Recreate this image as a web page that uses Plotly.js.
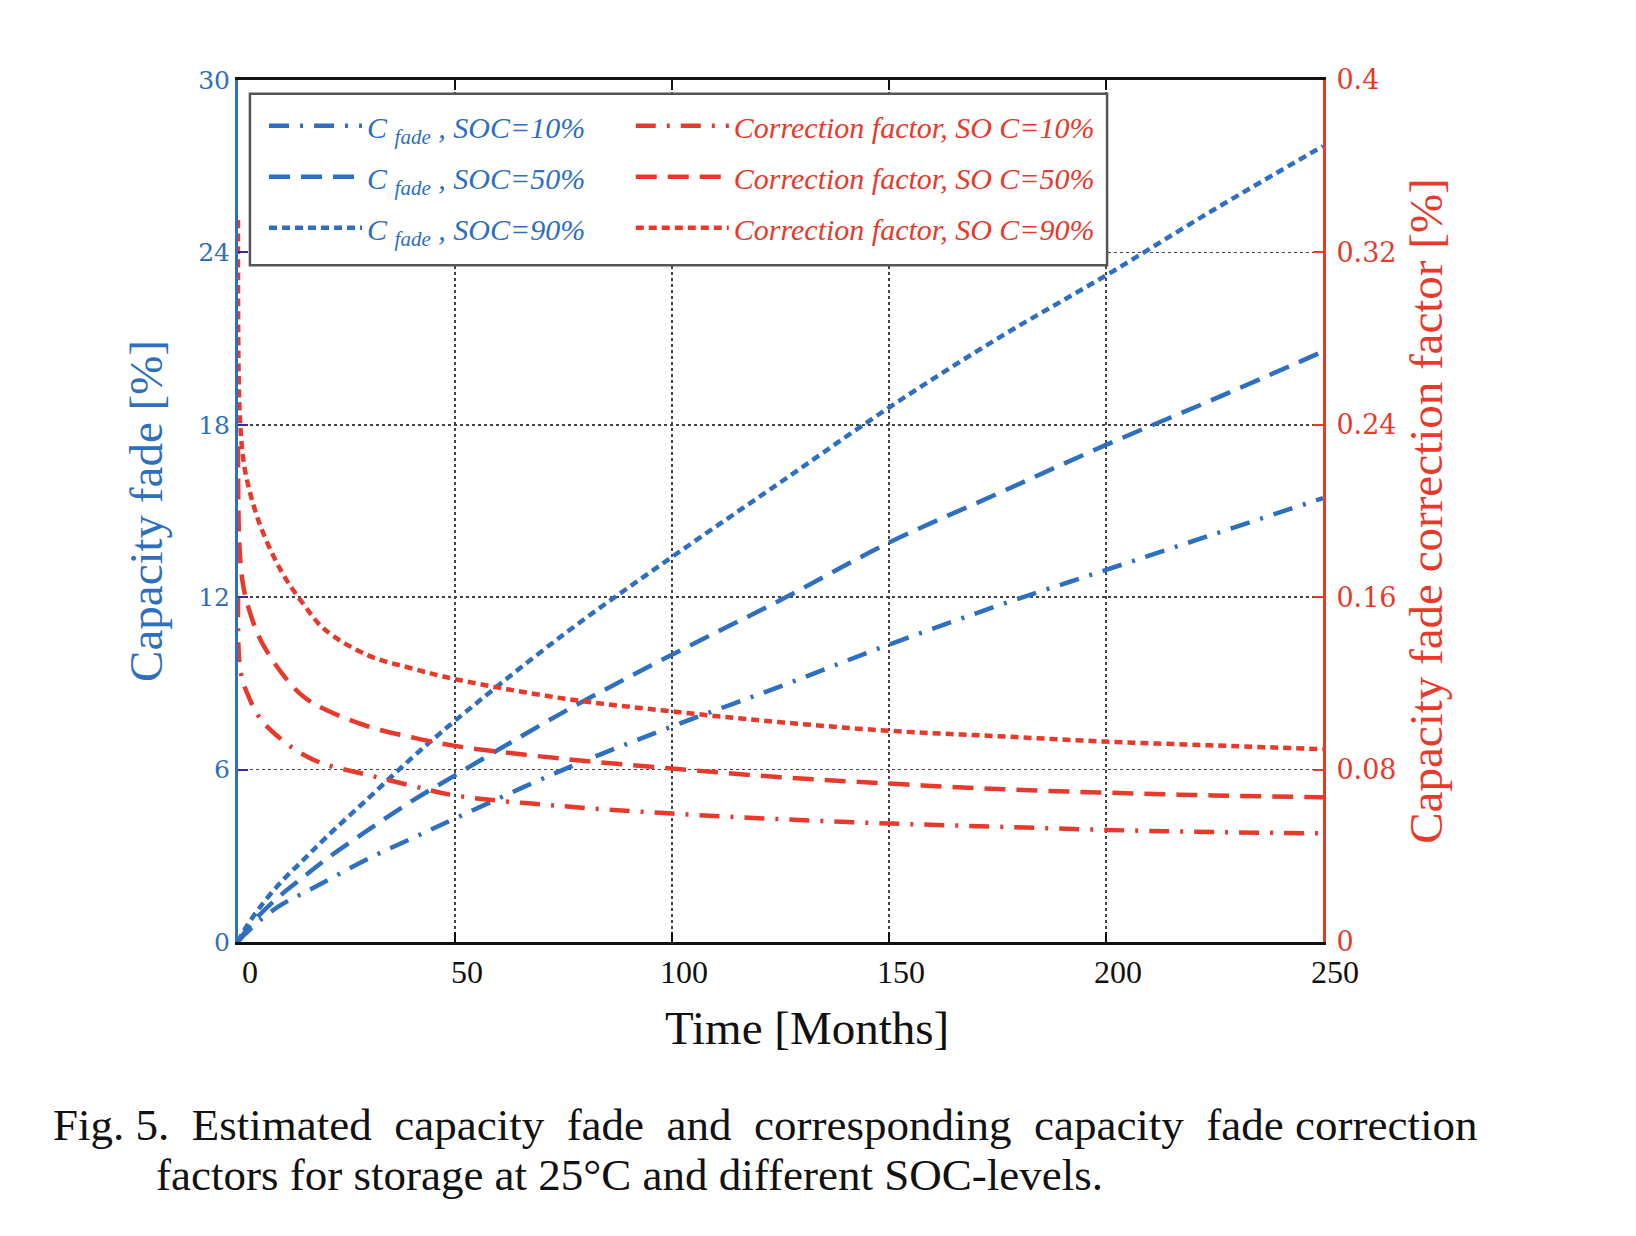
<!DOCTYPE html>
<html>
<head>
<meta charset="utf-8">
<script src="https://cdn.plot.ly/plotly-3.0.1.min.js"></script>
<style>html,body{margin:0;padding:0;background:#fff;}</style>
</head>
<body>
<div id="chart" style="width:1636px;height:1236px;"></div>
<script>
// ---- data ----
const tBlue = [0, 1, 2, 5, 10, 15, 20, 30, 40, 50, 75, 100, 125, 150, 175, 200, 225, 250];
const fade10 = [0, 0.18, 0.33, 0.75, 1.3, 1.7, 2.1, 2.9, 3.6, 4.3, 6.0, 7.5, 8.9, 10.35, 11.7, 12.95, 14.2, 15.45];
const fade50 = [0, 0.22, 0.42, 0.95, 1.65, 2.25, 2.85, 3.9, 4.9, 5.8, 8.0, 10.0, 11.9, 13.9, 15.6, 17.3, 18.9, 20.55];
const fade90 = [0, 0.3, 0.55, 1.2, 2.1, 2.85, 3.6, 5.0, 6.4, 7.7, 10.7, 13.4, 16.0, 18.6, 21.0, 23.2, 25.5, 27.7];

const tRed = [0, 0.3, 1, 2, 5, 10, 15, 20, 30, 40, 50, 75, 100, 125, 150, 175, 200, 225, 250];
const cf10 = [0.16, 0.13, 0.122, 0.116, 0.104, 0.094, 0.087, 0.0825, 0.0775, 0.0725, 0.068, 0.063, 0.0596, 0.057, 0.055, 0.0535, 0.052, 0.051, 0.0504];
const cf50 = [0.23, 0.185, 0.168, 0.158, 0.141, 0.125, 0.114, 0.108, 0.1, 0.095, 0.091, 0.085, 0.0805, 0.0765, 0.0735, 0.071, 0.0693, 0.068, 0.0672];
const cf90 = [0.335, 0.25, 0.228, 0.215, 0.194, 0.172, 0.157, 0.145, 0.133, 0.127, 0.122, 0.113, 0.107, 0.102, 0.098, 0.0955, 0.093, 0.0912, 0.0895];

const xTicks = [0, 50, 100, 150, 200, 250];
const xTickText = ['0', '50', '100', '150', '200', '250'];
const yTicks = [0, 6, 12, 18, 24, 30];
const y2Ticks = [0, 0.08, 0.16, 0.24, 0.32, 0.4];
const y2TickText = ['0', '0.08', '0.16', '0.24', '0.32', '0.4'];

const blueNames = ['<i>C <sub>fade</sub> , SOC=10%</i>', '<i>C <sub>fade</sub> , SOC=50%</i>', '<i>C <sub>fade</sub> , SOC=90%</i>'];
const redNames = ['<i>Correction factor, SO C=10%</i>', '<i>Correction factor, SO C=50%</i>', '<i>Correction factor, SO C=90%</i>'];

const xTitle = 'Time [Months]';
const yTitle = 'Capacity fade [%]';
const y2Title = 'Capacity fade correction factor [%]';
const captionLine1 = 'Fig. 5.  Estimated  capacity  fade  and  corresponding  capacity  fade correction';
const captionLine2 = 'factors for storage at 25°C and different SOC-levels.';

// ---- styles ----
const BLUE = '#2F6FC0';
const RED = '#E8392B';
const FONT = 'Liberation Serif, Times New Roman, serif';
const TICKFONT = 'DejaVu Serif, serif';
const dashDot = '20px,11px,3px,11px';
const dashDash = '21px,11px';
const dashDotted = '8px,5px';
const LW = 4.5;

const traces = [
  {x: tBlue, y: fade10, name: blueNames[0], yaxis: 'y', legend: 'legend', legendgroup: 'b1', line: {color: BLUE, width: LW, dash: dashDot, shape: 'spline'}},
  {x: tBlue, y: fade50, name: blueNames[1], yaxis: 'y', legend: 'legend', legendgroup: 'b2', line: {color: BLUE, width: LW, dash: dashDash, shape: 'spline'}},
  {x: tBlue, y: fade90, name: blueNames[2], yaxis: 'y', legend: 'legend', legendgroup: 'b3', line: {color: BLUE, width: LW, dash: dashDotted, shape: 'spline'}},
  {x: tRed, y: cf10, name: redNames[0], yaxis: 'y2', legend: 'legend2', legendgroup: 'r1', line: {color: RED, width: LW, dash: dashDot, shape: 'spline'}},
  {x: tRed, y: cf50, name: redNames[1], yaxis: 'y2', legend: 'legend2', legendgroup: 'r2', line: {color: RED, width: LW, dash: dashDash, shape: 'spline'}},
  {x: tRed, y: cf90, name: redNames[2], yaxis: 'y2', legend: 'legend2', legendgroup: 'r3', line: {color: RED, width: LW, dash: dashDotted, shape: 'spline'}}
].map(t => Object.assign({type: 'scatter', mode: 'lines', hoverinfo: 'skip'}, t));

const legendBase = {
  yanchor: 'top', xanchor: 'left', orientation: 'v', y: 0.977,
  bgcolor: 'rgba(0,0,0,0)', borderwidth: 0, itemwidth: 93, tracegroupgap: 9,
  traceorder: 'grouped'
};

const layout = {
  width: 1636, height: 1236,
  margin: {l: 238, r: 313, t: 80, b: 294, pad: 0},
  paper_bgcolor: '#fff', plot_bgcolor: '#fff',
  font: {family: FONT, color: '#111'},
  showlegend: true,
  xaxis: {
    range: [0, 250], tickvals: xTicks, ticktext: xTickText,
    ticks: 'inside', ticklen: 10, tickwidth: 2, tickcolor: '#111',
    showline: true, linecolor: '#111', linewidth: 3, mirror: 'ticks',
    showgrid: true, gridcolor: '#444', griddash: 'dot', gridwidth: 1.5,
    zeroline: false, tickfont: {family: FONT, size: 32, color: '#111'},
    ticklabelshift: 12
  },
  yaxis: {
    range: [0, 30], tickvals: yTicks,
    ticks: 'inside', ticklen: 10, tickwidth: 2, tickcolor: '#3b2a9a',
    showline: true, linecolor: BLUE, linewidth: 3,
    showgrid: true, gridcolor: '#444', griddash: 'dot', gridwidth: 1.5,
    zeroline: false, tickfont: {family: TICKFONT, size: 25, color: BLUE},
    title: {text: yTitle, font: {family: FONT, size: 47, color: BLUE}, standoff: 21}
  },
  yaxis2: {
    overlaying: 'y', side: 'right', range: [0, 0.4], tickvals: y2Ticks, ticktext: y2TickText,
    ticks: 'inside', ticklen: 10, tickwidth: 2, tickcolor: RED,
    showline: true, linecolor: RED, linewidth: 3, ticklabelstandoff: 5,
    showgrid: false, zeroline: false, tickfont: {family: TICKFONT, size: 27, color: RED},
    title: {text: y2Title, font: {family: FONT, size: 47, color: RED}, standoff: 14}
  },
  legend: Object.assign({}, legendBase, {x: 0.024, font: {family: FONT, size: 30, color: BLUE}}),
  legend2: Object.assign({}, legendBase, {x: 0.362, font: {family: FONT, size: 30, color: RED}}),
  shapes: [
    {type: 'rect', xref: 'paper', yref: 'paper', x0: 0.011, x1: 0.801, y0: 0.785, y1: 0.984,
     layer: 'above', fillcolor: '#fff', line: {color: '#555', width: 2.5}}
  ],
  annotations: [
    {xref: 'paper', yref: 'paper', x: 0.524, y: -0.0998, xanchor: 'center', yanchor: 'middle', showarrow: false,
     text: xTitle, font: {family: FONT, size: 47, color: '#111'}},
    {xref: 'paper', yref: 'paper', x: -0.1728, y: -0.212, xanchor: 'left', yanchor: 'middle', showarrow: false,
     text: captionLine1, font: {family: FONT, size: 45, color: '#111'}},
    {xref: 'paper', yref: 'paper', x: -0.077, y: -0.27, xanchor: 'left', yanchor: 'middle', showarrow: false,
     text: captionLine2, font: {family: FONT, size: 45, color: '#111'}}
  ]
};

Plotly.newPlot('chart', traces, layout, {displayModeBar: false, staticPlot: true});
</script>
</body>
</html>
